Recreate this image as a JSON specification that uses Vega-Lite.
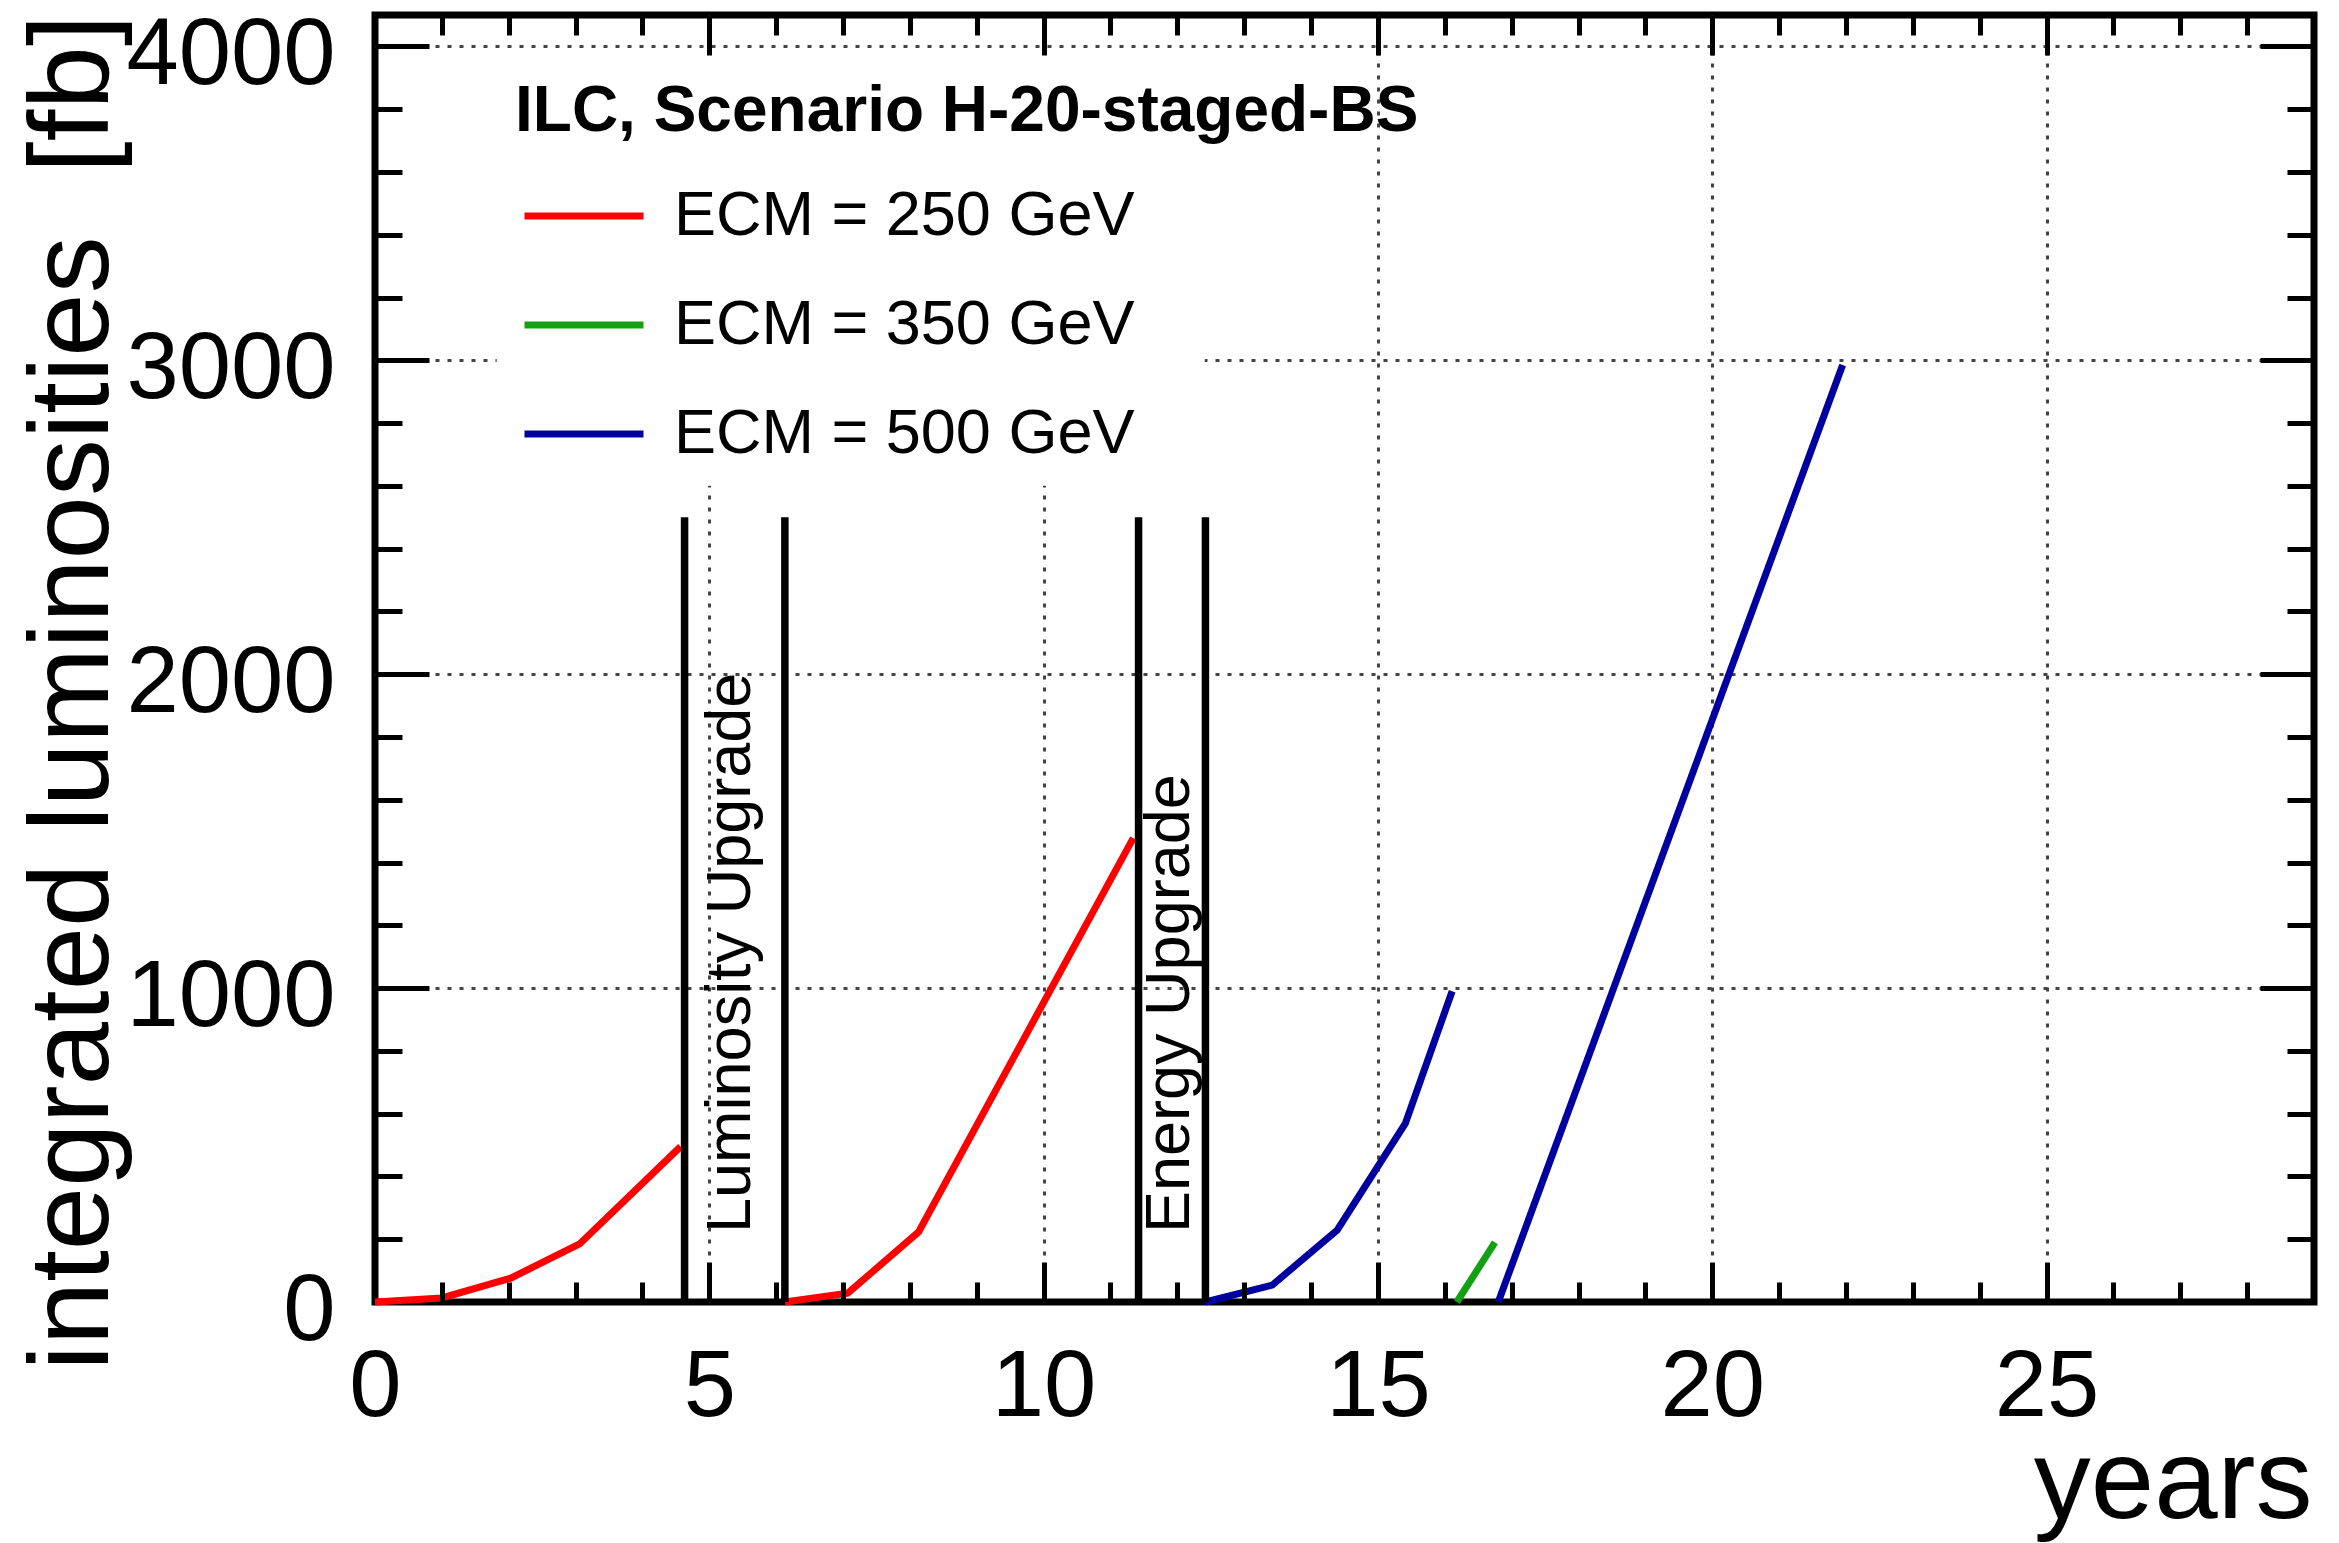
{
  "$schema": "https://vega.github.io/schema/vega-lite/v6.json",
  "width": 1939,
  "height": 1287,
  "autosize": {"type": "none"},
  "padding": {"left": 375, "top": 15, "right": 25, "bottom": 241},
  "background": "white",
  "config": {
    "view": {"stroke": "black", "strokeWidth": 7},
    "font": "Liberation Sans"
  },
  "datasets": {
    "luminosity": [
      {"stage": "ECM = 250 GeV", "run": "250-1", "year": 0, "lumi": 0},
      {"stage": "ECM = 250 GeV", "run": "250-1", "year": 1.0, "lumi": 13},
      {"stage": "ECM = 250 GeV", "run": "250-1", "year": 2.03, "lumi": 76},
      {"stage": "ECM = 250 GeV", "run": "250-1", "year": 3.06, "lumi": 185},
      {"stage": "ECM = 250 GeV", "run": "250-1", "year": 4.57, "lumi": 495},
      {"stage": "ECM = 250 GeV", "run": "250-2", "year": 6.13, "lumi": 0},
      {"stage": "ECM = 250 GeV", "run": "250-2", "year": 7.07, "lumi": 28},
      {"stage": "ECM = 250 GeV", "run": "250-2", "year": 8.13, "lumi": 223},
      {"stage": "ECM = 250 GeV", "run": "250-2", "year": 11.34, "lumi": 1478},
      {"stage": "ECM = 350 GeV", "run": "350", "year": 16.18, "lumi": 0},
      {"stage": "ECM = 350 GeV", "run": "350", "year": 16.75, "lumi": 190},
      {"stage": "ECM = 500 GeV", "run": "500-1", "year": 12.42, "lumi": 0},
      {"stage": "ECM = 500 GeV", "run": "500-1", "year": 13.42, "lumi": 54},
      {"stage": "ECM = 500 GeV", "run": "500-1", "year": 14.39, "lumi": 229},
      {"stage": "ECM = 500 GeV", "run": "500-1", "year": 15.41, "lumi": 569},
      {"stage": "ECM = 500 GeV", "run": "500-1", "year": 16.11, "lumi": 990},
      {"stage": "ECM = 500 GeV", "run": "500-2", "year": 16.8, "lumi": 0},
      {"stage": "ECM = 500 GeV", "run": "500-2", "year": 21.95, "lumi": 2985}
    ],
    "upgrades": [
      {"phase": "Luminosity Upgrade", "start": 4.63, "end": 6.13, "top": 2500},
      {"phase": "Energy Upgrade", "start": 11.42, "end": 12.42, "top": 2500}
    ]
  },
  "resolve": {"axis": {"x": "independent", "y": "independent"}},
  "layer": [
    {
      "data": {"values": [{}]},
      "mark": {"type": "rect", "fill": "white", "strokeWidth": 0},
      "encoding": {
        "x": {
          "datum": 1.82, "type": "quantitative",
          "scale": {"domain": [0, 29], "nice": false, "zero": false},
          "axis": {
            "orient": "bottom", "values": [0, 5, 10, 15, 20, 25], "format": "d",
            "ticks": false, "domain": false, "grid": true,
            "gridColor": "#444444", "gridDash": [4, 8], "gridWidth": 3,
            "gridOpacity": {"condition": {"test": "datum.value === 0", "value": 0}, "value": 1},
            "labelFont": "Liberation Sans", "labelFontSize": 94, "labelColor": "black",
            "labelPadding": 113, "labelBaseline": "alphabetic", "labelAlign": "center",
            "labelFlush": false, "labelOverlap": false, "labelLimit": 1000,
            "title": "years", "titleFont": "Liberation Sans", "titleFontSize": 114,
            "titleFontWeight": "normal", "titleColor": "black", "titleAnchor": "end",
            "titleAlign": "right", "titleBaseline": "alphabetic", "titleX": 1937, "titleY": 215,
            "zindex": 0
          }
        },
        "x2": {"value": {"expr": "scale('x', 12.41)"}},
        "y": {
          "datum": 2600, "type": "quantitative",
          "scale": {"domain": [0, 4100], "nice": false, "zero": false},
          "axis": {
            "orient": "left", "values": [0, 1000, 2000, 3000, 4000], "format": "d",
            "ticks": false, "domain": false, "grid": true,
            "gridColor": "#444444", "gridDash": [4, 8], "gridWidth": 3,
            "gridOpacity": {"condition": {"test": "datum.value === 0", "value": 0}, "value": 1},
            "labelFont": "Liberation Sans", "labelFontSize": 94, "labelColor": "black",
            "labelPadding": 40, "labelAlign": "right", "labelBaseline": "alphabetic",
            "labelOffset": 37.5, "labelFlush": false, "labelOverlap": false, "labelLimit": 1000,
            "title": "integrated luminosities \u00a0[fb]", "titleFont": "Liberation Sans",
            "titleFontSize": 114, "titleFontWeight": "normal", "titleColor": "black",
            "titleAngle": 270, "titleAnchor": "end", "titleAlign": "right",
            "titleBaseline": "alphabetic", "titleX": -268, "titleY": -1, "titleLimit": 3000,
            "zindex": 0
          }
        },
        "y2": {"value": {"expr": "scale('y', 3985)"}}
      }
    },
    {
      "data": {"name": "luminosity"},
      "mark": {"type": "line", "strokeWidth": 7},
      "encoding": {
        "x": {
          "field": "year", "type": "quantitative",
          "scale": {"domain": [0, 29], "nice": false, "zero": false},
          "axis": {
            "orient": "bottom", "values": [5, 10, 15, 20, 25], "labels": false,
            "domain": false, "grid": false, "tickSize": -40, "tickWidth": 5,
            "tickColor": "black", "title": null, "zindex": 1
          }
        },
        "y": {
          "field": "lumi", "type": "quantitative",
          "scale": {"domain": [0, 4100], "nice": false, "zero": false},
          "axis": {
            "orient": "left", "values": [1000, 2000, 3000, 4000], "labels": false,
            "domain": false, "grid": false, "tickSize": -54, "tickWidth": 5,
            "tickColor": "black", "title": null, "zindex": 1
          }
        },
        "color": {
          "field": "stage", "type": "nominal",
          "scale": {
            "domain": ["ECM = 250 GeV", "ECM = 350 GeV", "ECM = 500 GeV"],
            "range": ["#ff0000", "#13a013", "#0000a0"]
          },
          "legend": {
            "title": "ILC, Scenario H-20-staged-BS",
            "orient": "none", "legendX": 140, "legendY": 65, "direction": "vertical",
            "padding": 0,
            "titleFont": "Liberation Sans", "titleFontSize": 64, "titleFontWeight": "bold",
            "titleColor": "black", "titleBaseline": "top", "titlePadding": 9,
            "titleLimit": 1500, "titleAnchor": "start",
            "labelFont": "Liberation Sans", "labelFontSize": 63, "labelColor": "black",
            "labelLimit": 1000, "labelOffset": 27,
            "symbolType": "stroke", "symbolSize": 14161, "symbolStrokeWidth": 7,
            "symbolOffset": 6, "rowPadding": 14
          }
        },
        "detail": {"field": "run", "type": "nominal"}
      }
    },
    {
      "data": {"name": "upgrades"},
      "transform": [{"fold": ["start", "end"], "as": ["edge", "year"]}],
      "mark": {"type": "rule", "strokeWidth": 7.5, "color": "black"},
      "encoding": {
        "x": {
          "field": "year", "type": "quantitative",
          "scale": {"domain": [0, 29], "nice": false, "zero": false},
          "axis": {
            "orient": "bottom",
            "values": [1, 2, 3, 4, 6, 7, 8, 9, 11, 12, 13, 14, 16, 17, 18, 19, 21, 22, 23, 24, 26, 27, 28],
            "labels": false, "domain": false, "grid": false, "tickSize": -20, "tickWidth": 5,
            "tickColor": "black", "title": null, "zindex": 1
          }
        },
        "y": {
          "field": "top", "type": "quantitative",
          "scale": {"domain": [0, 4100], "nice": false, "zero": false},
          "axis": {
            "orient": "left",
            "values": [200, 400, 600, 800, 1200, 1400, 1600, 1800, 2200, 2400, 2600, 2800, 3200, 3400, 3600, 3800],
            "labels": false, "domain": false, "grid": false, "tickSize": -27, "tickWidth": 5,
            "tickColor": "black", "title": null, "zindex": 1
          }
        },
        "y2": {"value": {"expr": "height"}}
      }
    },
    {
      "data": {"name": "upgrades"},
      "transform": [{"filter": "datum.phase === 'Luminosity Upgrade'"}],
      "mark": {
        "type": "text", "angle": 270, "align": "left", "baseline": "alphabetic",
        "font": "Liberation Sans", "fontSize": 63, "color": "black", "dx": 69, "dy": 65
      },
      "encoding": {
        "x": {
          "field": "start", "type": "quantitative",
          "scale": {"domain": [0, 29], "nice": false, "zero": false},
          "axis": {
            "orient": "top", "values": [5, 10, 15, 20, 25], "labels": false,
            "domain": false, "grid": false, "tickSize": -40, "tickWidth": 5,
            "tickColor": "black", "title": null, "zindex": 1
          }
        },
        "y": {
          "datum": 0, "type": "quantitative",
          "scale": {"domain": [0, 4100], "nice": false, "zero": false},
          "axis": {
            "orient": "right", "values": [1000, 2000, 3000, 4000], "labels": false,
            "domain": false, "grid": false, "tickSize": -54, "tickWidth": 5,
            "tickColor": "black", "title": null, "zindex": 1
          }
        },
        "text": {"field": "phase", "type": "nominal"}
      }
    },
    {
      "data": {"name": "upgrades"},
      "transform": [{"filter": "datum.phase === 'Energy Upgrade'"}],
      "mark": {
        "type": "text", "angle": 270, "align": "left", "baseline": "alphabetic",
        "font": "Liberation Sans", "fontSize": 63, "color": "black", "dx": 69, "dy": 50
      },
      "encoding": {
        "x": {
          "field": "start", "type": "quantitative",
          "scale": {"domain": [0, 29], "nice": false, "zero": false},
          "axis": {
            "orient": "top",
            "values": [1, 2, 3, 4, 6, 7, 8, 9, 11, 12, 13, 14, 16, 17, 18, 19, 21, 22, 23, 24, 26, 27, 28],
            "labels": false, "domain": false, "grid": false, "tickSize": -20, "tickWidth": 5,
            "tickColor": "black", "title": null, "zindex": 1
          }
        },
        "y": {
          "datum": 0, "type": "quantitative",
          "scale": {"domain": [0, 4100], "nice": false, "zero": false},
          "axis": {
            "orient": "right",
            "values": [200, 400, 600, 800, 1200, 1400, 1600, 1800, 2200, 2400, 2600, 2800, 3200, 3400, 3600, 3800],
            "labels": false, "domain": false, "grid": false, "tickSize": -27, "tickWidth": 5,
            "tickColor": "black", "title": null, "zindex": 1
          }
        },
        "text": {"field": "phase", "type": "nominal"}
      }
    }
  ]
}
